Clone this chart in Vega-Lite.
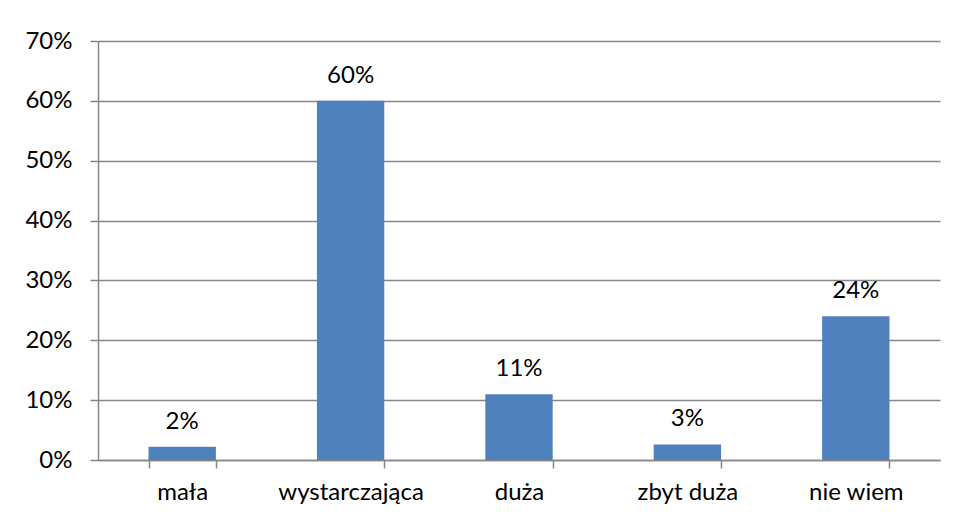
{
  "$schema": "https://vega.github.io/schema/vega-lite/v6.json",
  "width": 842,
  "height": 419,
  "autosize": {"type": "none"},
  "padding": {"left": 98, "top": 41, "right": 17, "bottom": 59},
  "background": "white",
  "config": {
    "view": {"stroke": null},
    "font": "Lato"
  },
  "data": {
    "values": [
      {"kategoria": "mała", "wartosc": 0.022, "etykieta": "2%"},
      {"kategoria": "wystarczająca", "wartosc": 0.60, "etykieta": "60%"},
      {"kategoria": "duża", "wartosc": 0.11, "etykieta": "11%"},
      {"kategoria": "zbyt duża", "wartosc": 0.026, "etykieta": "3%"},
      {"kategoria": "nie wiem", "wartosc": 0.24, "etykieta": "24%"}
    ]
  },
  "encoding": {
    "x": {
      "field": "kategoria",
      "type": "nominal",
      "sort": null,
      "scale": {"paddingInner": 0.6, "paddingOuter": 0.3},
      "axis": {
        "title": null,
        "labelAngle": 0,
        "labelFont": "Lato",
        "labelFontSize": 24,
        "labelColor": "#000000",
        "labelPadding": 12,
        "tickSize": 8,
        "tickColor": "#868686",
        "tickWidth": 1.5,
        "tickBand": "extent",
        "domainColor": "#868686",
        "domainWidth": 1.5,
        "grid": false
      }
    },
    "y": {
      "field": "wartosc",
      "type": "quantitative",
      "scale": {"domain": [0, 0.7], "nice": false},
      "axis": {
        "title": null,
        "values": [0, 0.1, 0.2, 0.3, 0.4, 0.5, 0.6, 0.7],
        "format": ".0%",
        "labelFont": "Lato",
        "labelFontSize": 24,
        "labelColor": "#000000",
        "labelPadding": 18,
        "tickSize": 8,
        "tickColor": "#868686",
        "tickWidth": 1.5,
        "domainColor": "#868686",
        "domainWidth": 1.5,
        "grid": true,
        "gridColor": "#868686",
        "gridWidth": 1.5
      }
    }
  },
  "layer": [
    {
      "mark": {"type": "bar", "color": "#4F81BD"}
    },
    {
      "mark": {"type": "text", "baseline": "alphabetic", "dy": -18, "fontSize": 24, "font": "Lato", "color": "#000000"},
      "encoding": {"text": {"field": "etykieta"}}
    }
  ]
}
